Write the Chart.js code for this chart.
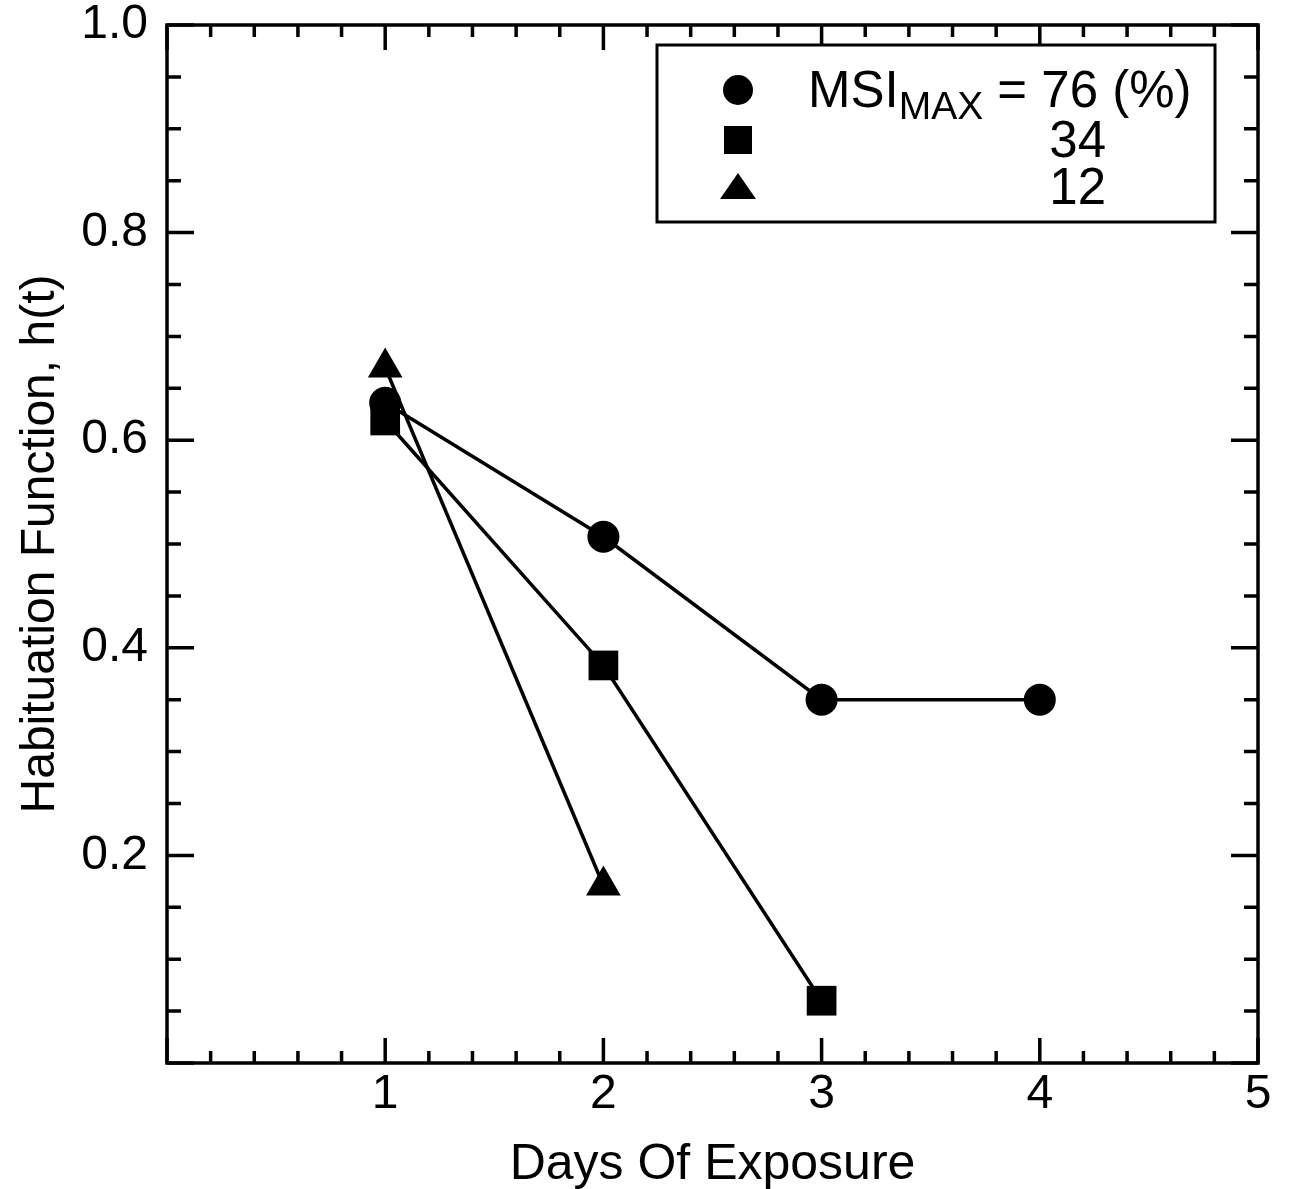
<!DOCTYPE html>
<html>
<head>
<meta charset="utf-8">
<script src="https://cdn.jsdelivr.net/npm/chart.js@4.4.1/dist/chart.umd.min.js"></script>
<style>
  html, body { margin: 0; padding: 0; background: #fff; }
  #wrap { width: 1293px; height: 1189px; }
</style>
</head>
<body>
<div id="wrap"><canvas id="chart" width="1293" height="1189"></canvas></div>
<script>
// días de exposición y valores
const dias76 = [1, 2, 3, 4];
const h76 = [0.636, 0.507, 0.350, 0.350];
const dias34 = [1, 2, 3];
const h34 = [0.619, 0.383, 0.060];
const dias12 = [1, 2];
const h12 = [0.670, 0.171];
const leyendaValores = ['76 (%)', '34', '12'];

const NEGRO = '#000';
const FUENTE = '"Liberation Sans", Arial, Helvetica, sans-serif';

function puntos(xs, ys) {
  return xs.map((x, i) => ({ x: x, y: ys[i] }));
}

// marcas hacia adentro en los cuatro lados + marco
const marcasPlugin = {
  id: 'marcas',
  afterDraw(chart) {
    const { ctx, chartArea: a, scales } = chart;
    ctx.save();
    ctx.strokeStyle = NEGRO;
    ctx.lineWidth = 3.5;
    ctx.lineCap = 'butt';
    ctx.strokeRect(a.left, a.top, a.right - a.left, a.bottom - a.top);
    ctx.beginPath();
    for (let i = 0; i <= 25; i++) {
      const v = i * 0.2;
      const px = scales.x.getPixelForValue(v);
      const len = (i % 5 === 0) ? 25 : 12;
      ctx.moveTo(px, a.bottom); ctx.lineTo(px, a.bottom - len);
      ctx.moveTo(px, a.top); ctx.lineTo(px, a.top + len);
    }
    for (let i = 0; i <= 20; i++) {
      const v = i * 0.05;
      const py = scales.y.getPixelForValue(v);
      const len = (i % 4 === 0) ? 27 : 14;
      ctx.moveTo(a.left, py); ctx.lineTo(a.left + len, py);
      ctx.moveTo(a.right, py); ctx.lineTo(a.right - len, py);
    }
    ctx.stroke();
    ctx.restore();
  }
};

// leyenda con subíndice MAX
const leyendaPlugin = {
  id: 'leyendaMSI',
  afterDraw(chart) {
    const { ctx, chartArea: a } = chart;
    const x0 = a.left + 490, y0 = a.top + 20, w = 558, h = 177;
    ctx.save();
    ctx.fillStyle = '#fff';
    ctx.fillRect(x0, y0, w, h);
    ctx.strokeStyle = NEGRO;
    ctx.lineWidth = 3;
    ctx.strokeRect(x0, y0, w, h);

    ctx.fillStyle = NEGRO;
    const mx = x0 + 81;
    // círculo
    ctx.beginPath(); ctx.arc(mx, y0 + 45, 15, 0, Math.PI * 2); ctx.fill();
    // cuadrado
    ctx.fillRect(mx - 14, y0 + 81, 28, 28);
    // triángulo
    ctx.beginPath();
    ctx.moveTo(mx, y0 + 128); ctx.lineTo(mx + 18, y0 + 154); ctx.lineTo(mx - 18, y0 + 154);
    ctx.closePath(); ctx.fill();

    ctx.textBaseline = 'alphabetic';
    ctx.textAlign = 'left';
    let tx = x0 + 151;
    const base1 = y0 + 62;
    ctx.font = '51px ' + FUENTE;
    ctx.fillText('MSI', tx, base1);
    tx += ctx.measureText('MSI').width;
    ctx.font = '39px ' + FUENTE;
    ctx.fillText('MAX', tx, base1 + 12);
    tx += ctx.measureText('MAX').width;
    ctx.font = '51px ' + FUENTE;
    ctx.fillText(' = ', tx, base1);
    tx += ctx.measureText(' = ').width;
    ctx.fillText(leyendaValores[0], tx, base1);
    const colDer = tx + ctx.measureText(leyendaValores[0].split(' ')[0]).width + 8;
    ctx.textAlign = 'right';
    ctx.fillText(leyendaValores[1], colDer, y0 + 112);
    ctx.fillText(leyendaValores[2], colDer, y0 + 159);
    ctx.restore();
  }
};

const estiloSerie = {
  showLine: true,
  borderColor: NEGRO,
  borderWidth: 3.5,
  backgroundColor: NEGRO,
  pointBackgroundColor: NEGRO,
  pointBorderColor: NEGRO,
  pointBorderWidth: 0,
  tension: 0
};

new Chart(document.getElementById('chart'), {
  type: 'scatter',
  data: {
    datasets: [
      Object.assign({ label: '76', data: puntos(dias76, h76), pointStyle: 'circle', pointRadius: 16 }, estiloSerie),
      Object.assign({ label: '34', data: puntos(dias34, h34), pointStyle: 'rect', pointRadius: 21 }, estiloSerie),
      Object.assign({ label: '12', data: puntos(dias12, h12), pointStyle: 'triangle', pointRadius: 20 }, estiloSerie)
    ]
  },
  options: {
    animation: false,
    responsive: false,
    layout: { padding: { top: 25, right: 35, left: 0, bottom: 0 } },
    plugins: {
      legend: { display: false },
      tooltip: { enabled: false }
    },
    scales: {
      x: {
        type: 'linear',
        min: 0, max: 5,
        border: { display: false },
        grid: { display: false },
        afterFit(s) { s.height = 126; s.paddingRight = 0; s.paddingLeft = 0; },
        ticks: {
          stepSize: 1,
          color: NEGRO,
          padding: -5,
          font: { family: FUENTE, size: 48 },
          callback: v => (v === 0 ? '' : String(v))
        },
        title: {
          display: true,
          text: 'Days Of Exposure',
          color: NEGRO,
          font: { family: FUENTE, size: 50 },
          padding: { top: 0, bottom: -6 }
        }
      },
      y: {
        type: 'linear',
        min: 0, max: 1,
        border: { display: false },
        grid: { display: false },
        afterFit(s) { s.width = 167; s.paddingTop = 0; s.paddingBottom = 0; },
        ticks: {
          stepSize: 0.2,
          color: NEGRO,
          padding: 11,
          font: { family: FUENTE, size: 48 },
          callback: v => (v < 0.01 ? '' : Number(v).toFixed(1))
        },
        title: {
          display: true,
          text: 'Habituation Function, h(t)',
          color: NEGRO,
          font: { family: FUENTE, size: 48 },
          padding: { top: 12, bottom: 0 }
        }
      }
    }
  },
  plugins: [marcasPlugin, leyendaPlugin]
});
</script>
</body>
</html>
